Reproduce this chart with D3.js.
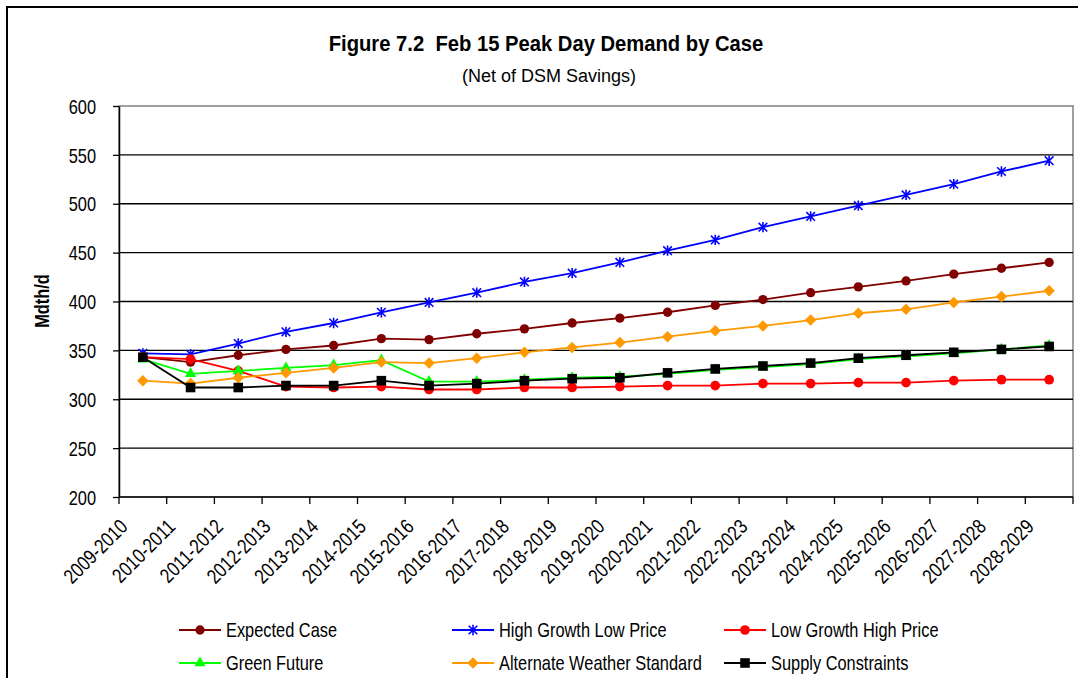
<!DOCTYPE html>
<html>
<head>
<meta charset="utf-8">
<script src="https://cdn.jsdelivr.net/npm/d3@7"></script>
<style>
  html, body { margin: 0; padding: 0; background: #fff; }
  svg { display: block; }
  text { font-family: "Liberation Sans", Arial, sans-serif; fill: #000; }
</style>
</head>
<body>
<svg id="chart" width="1078" height="678"></svg>
<script>
// Feb 15 peak day demand (Mdth/d) by planning case, net of DSM savings
const categories = ["2009-2010", "2010-2011", "2011-2012", "2012-2013", "2013-2014",
  "2014-2015", "2015-2016", "2016-2017", "2017-2018", "2018-2019", "2019-2020",
  "2020-2021", "2021-2022", "2022-2023", "2023-2024", "2024-2025", "2025-2026",
  "2026-2027", "2027-2028", "2028-2029"];

const expectedCase = [343, 338, 345, 351, 355, 362, 361, 367, 372, 378, 383, 389, 396, 402, 409, 415, 421, 428, 434, 440];
const highGrowthLowPrice = [347, 346, 357, 369, 378, 389, 399, 409, 420, 429, 440, 452, 463, 476, 487, 498, 509, 520, 533, 544];
const lowGrowthHighPrice = [343, 341, 329, 313, 312, 313, 310, 310, 312, 312, 313, 314, 314, 316, 316, 317, 317, 319, 320, 320];
const greenFuture = [341, 326, 329, 332, 335, 340, 318, 318, 320, 322, 323, 326, 330, 333, 336, 341, 344, 347, 351, 355];
const alternateWeather = [319, 316, 322, 327, 332, 338, 337, 342, 348, 353, 358, 364, 370, 375, 381, 388, 392, 399, 405, 411];
const supplyConstraints = [343, 312, 312, 314, 314, 319, 314, 316, 319, 321, 322, 327, 331, 334, 337, 342, 345, 348, 351, 354];

const yTicks = [200, 250, 300, 350, 400, 450, 500, 550, 600];

const seriesNames = ["Expected Case", "High Growth Low Price", "Low Growth High Price",
  "Green Future", "Alternate Weather Standard", "Supply Constraints"];

const series = [
  { name: seriesNames[0], values: expectedCase, color: "#800000", marker: "circle" },
  { name: seriesNames[1], values: highGrowthLowPrice, color: "#0000FF", marker: "star" },
  { name: seriesNames[2], values: lowGrowthHighPrice, color: "#FF0000", marker: "circleLarge" },
  { name: seriesNames[3], values: greenFuture, color: "#00FF00", marker: "triangle" },
  { name: seriesNames[4], values: alternateWeather, color: "#FF9900", marker: "diamond" },
  { name: seriesNames[5], values: supplyConstraints, color: "#000000", marker: "square" }
];

const svg = d3.select("#chart");
const NARROW = 0.82;  // condensed face for axis and legend text

const plot = { left: 119, right: 1073, top: 106, bottom: 497 };

const x = d3.scaleBand().domain(categories).range([plot.left, plot.right]).padding(0);
const y = d3.scaleLinear().domain([200, 600]).range([plot.bottom, plot.top]);

// outer chart frame
svg.append("rect")
  .attr("x", 7).attr("y", 7).attr("width", 1090).attr("height", 700)
  .attr("fill", "none").attr("stroke", "#000").attr("stroke-width", 2);

// titles
svg.append("text")
  .attr("text-anchor", "middle")
  .attr("transform", "translate(546,51) scale(0.94,1)")
  .style("font-size", "21.5px").style("font-weight", "bold")
  .style("white-space", "pre")
  .text("Figure 7.2\u00A0 Feb 15 Peak Day Demand by Case");

svg.append("text")
  .attr("x", 549).attr("y", 82)
  .attr("text-anchor", "middle")
  .style("font-size", "18px")
  .text("(Net of DSM Savings)");

// plot area border (grey), gridlines (black)
svg.append("rect")
  .attr("x", plot.left).attr("y", plot.top)
  .attr("width", plot.right - plot.left).attr("height", plot.bottom - plot.top)
  .attr("fill", "none").attr("stroke", "#808080").attr("stroke-width", 1.5);

svg.append("g")
  .selectAll("line")
  .data(yTicks.filter(t => t > 200 && t < 600))
  .join("line")
  .attr("x1", plot.left).attr("x2", plot.right)
  .attr("y1", d => y(d)).attr("y2", d => y(d))
  .attr("stroke", "#000").attr("stroke-width", 1.3);

// y axis
const yAxis = svg.append("g")
  .attr("transform", `translate(${plot.left},0)`)
  .call(d3.axisLeft(y).tickValues(yTicks).tickSize(6).tickSizeOuter(0).tickFormat(d3.format("d")));
yAxis.select(".domain").attr("stroke", "#000").attr("stroke-width", 1.5);
yAxis.selectAll(".tick line").attr("stroke", "#000").attr("stroke-width", 1.3);
yAxis.selectAll(".tick text").remove();
yAxis.selectAll(".tick").append("text")
  .attr("text-anchor", "end")
  .attr("dy", "0.36em")
  .attr("transform", `translate(-23,0) scale(${NARROW},1)`)
  .style("font-size", "20px")
  .text(d => d);

// x axis with ticks at category boundaries
const xAxisG = svg.append("g").attr("transform", `translate(0,${plot.bottom})`);
xAxisG.append("line")
  .attr("x1", plot.left).attr("x2", plot.right)
  .attr("stroke", "#000").attr("stroke-width", 1.5);
const bounds = categories.map(c => x(c)).concat([x(categories[categories.length - 1]) + x.bandwidth()]);
xAxisG.selectAll("line.tk")
  .data(bounds)
  .join("line")
  .attr("class", "tk")
  .attr("x1", d => d).attr("x2", d => d)
  .attr("y1", 0).attr("y2", 7)
  .attr("stroke", "#000").attr("stroke-width", 1.3);
xAxisG.selectAll("text")
  .data(categories)
  .join("text")
  .attr("text-anchor", "end")
  .attr("transform", d => `translate(${x(d) + x.bandwidth() / 2 - 14},31) rotate(-45) scale(${NARROW},1)`)
  .style("font-size", "20.5px")
  .text(d => d);

// y axis title
svg.append("text")
  .attr("text-anchor", "middle")
  .attr("transform", `translate(49,301) rotate(-90) scale(${NARROW},1)`)
  .style("font-size", "20px").style("font-weight", "bold")
  .text("Mdth/d");

// marker drawing
function drawMarker(g, type, color) {
  if (type === "circle") {
    g.append("path").attr("d", d3.symbol(d3.symbolCircle, 68)()).attr("fill", color);
  } else if (type === "circleLarge") {
    g.append("path").attr("d", d3.symbol(d3.symbolCircle, 74)()).attr("fill", color);
  } else if (type === "triangle") {
    g.append("path").attr("d", d3.symbol(d3.symbolTriangle, 56)()).attr("fill", color);
  } else if (type === "diamond") {
    g.append("path").attr("d", d3.symbol(d3.symbolSquare, 66)())
      .attr("transform", "rotate(45)").attr("fill", color);
  } else if (type === "square") {
    g.append("path").attr("d", d3.symbol(d3.symbolSquare, 92)()).attr("fill", color);
  } else if (type === "star") {
    const r = 4.3;
    g.append("path")
      .attr("d", `M${-r},${-r}L${r},${r}M${-r},${r}L${r},${-r}M0,${-r * 1.2}L0,${r * 1.2}`)
      .attr("stroke", color).attr("stroke-width", 1.6).attr("fill", "none");
  }
}

const line = d3.line()
  .x((d, i) => x(categories[i]) + x.bandwidth() / 2)
  .y(d => y(d));

const seriesG = svg.append("g");
series.forEach(s => {
  const g = seriesG.append("g");
  g.append("path")
    .datum(s.values)
    .attr("d", line)
    .attr("fill", "none")
    .attr("stroke", s.color)
    .attr("stroke-width", 1.8);
  g.selectAll("g.m")
    .data(s.values)
    .join("g")
    .attr("class", "m")
    .attr("transform", (d, i) => `translate(${x(categories[i]) + x.bandwidth() / 2},${y(d)})`)
    .each(function () { drawMarker(d3.select(this), s.marker, s.color); });
});

// legend: three columns, two rows
const legendCols = [179, 452, 724];
const legendRows = [630, 663];
series.forEach((s, i) => {
  const lx = legendCols[i % 3];
  const ly = legendRows[Math.floor(i / 3)];
  const g = svg.append("g").attr("transform", `translate(${lx},${ly})`);
  g.append("line").attr("x1", 0).attr("x2", 42).attr("y1", 0).attr("y2", 0)
    .attr("stroke", s.color).attr("stroke-width", 1.8);
  const m = g.append("g").attr("transform", "translate(21,0)");
  drawMarker(m, s.marker, s.color);
  g.append("text")
    .attr("dy", "0.36em")
    .attr("transform", `translate(47,0) scale(${NARROW},1)`)
    .style("font-size", "20px")
    .text(s.name);
});
</script>
</body>
</html>
